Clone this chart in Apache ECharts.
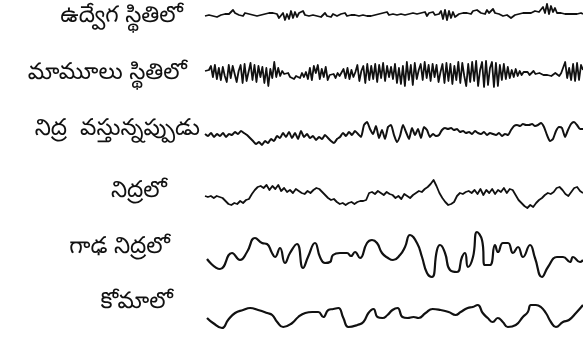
<!DOCTYPE html>
<html lang="te" style="height: 100%">
<head>
  <meta charset="utf-8">
</head>
<body style="height: 100%; margin: 0; background: #fff">
  <div id="container" style="width: 583px; height: 340px"></div>
  <script src="https://cdn.jsdelivr.net/npm/echarts@6/dist/echarts.min.js"></script>
  <script>
    // row labels (top to bottom)
    var labels = ['ఉద్వేగ స్థితిలో', 'మామూలు స్థితిలో', 'నిద్ర  వస్తున్నప్పుడు', 'నిద్రలో', 'గాఢ నిద్రలో', 'కోమాలో'];

    // excited - sampled every 2px
    var excited = [0, -1, 1, -1, 0, 1, -1, 0, 1, 0, 2, 1, 2, 4, 6, 3, 5, 1, 2, 0, 3, 1, 2,
      2, 1, 3, 0, 2, 1, 3, 2, 1, 3, 2, 3, 4, 2, -2, -1, 3, -4, 2, -3, 5, -2, 4, -1, 3,
      2, 5, 1, 3, 0, 2, 1, 1, 0, 2, -1, 1, 3, 0, 1, -1, 2, 1, 0, 1, 2, 1, 3, 0, 2, 1, 3, 1, 2,
      0, -1, 1, -1, 0, 1, 0, -1, 1, 0, 2, 1, 3, 2, 4, 1, 3, 2, 4, 1, 3, 2, 3, 1, 2,
      2, 4, 3, 1, 2, 1, 3, 1, 4, 0, 3, 2, 4, 1, 3, 2, 5, -3, 6, -4, 5, -2, 4, -1, 1, 2, 1, 3, 2,
      3, 4, 2, 5, 3, 6, 4, 3, 5, 2, 6, 3, 4, 7, 3, 4, 2, 1, 0, -1, 1, 0, -2, 0, 1,
      1, 2, 1, 3, 2, 3, 4, 3, 4, 5, 3, 4, 5, 9, 3, 12, 2, 10, 4, 8, 3,
      2, 3, 2, 2, 3, 2, 1, 2, 3, 2, 4, 3, 2];

    // normal - sampled every 2px
    var normal = [3, 2, 4, 8, -3, 9, -5, 6, -6, 7, -2, -8, 9, -4, 8,
      10, -8, 3, 9, -9, 10, -7, 2, 11, -6, 9, -8, 8, -3, 7, -9, 6, -12, 5,
      -4, 12, -3, 6, -2, 3, 0, -2, 1, -3, -1, -5, -2, 0, -4, 1, -3, 2,
      -5, 6, -6, 8, 1, 9, -5, 5, -3, 7, -6, -1, -3, 0, -4, 1, -2, -3, 5, -4, 6, -5, 4, -3, 2,
      9, -7, 3, 8, -9, 10, -6, 8, -5, 10, -8, 9, -4, 11, -7, 8, -3, 7, -5, 10, -9, 6,
      -10, 8, -12, 12, -6, 9, -11, 11, -5, 4, 10, -6, 12, -4, 9, -7, 10, -3, 9, -8, 2, 10, -9, 11, -7, 10,
      -10, 8, -6, 12, -9, 11, -2, -12, 10, -8, 12, -7, 13, -12, 4, 12, -13, 13, -11, 6, 12, -13,
      11, -12, 9, -6, 10, -5, 7, -4, 4, -3, 5, -2, 3,
      -1, 2, 0, 2, -1, 1, 3, 0, -2, 1, 2, -1, -3, -1, 0, -2, -1, 1, 0, -2,
      1, 3, 12, -4, 6, -6, 10, -7, 11, -6, 9, 4];

    // drowsy - sampled every 3px
    var drowsy = [-1, -3, 0, -4, -1, -3, 0, -4, -1, -2, 1, -1, 2, 0, -2, -5, -8, -11, -9, -12, -8,
      -10, -6, -8, -3, -5, 0, -4, 1, -5, 0, -6, 2, -4, -1, -5, -3, -7, -4, -6, -2, -5, -8, -10, -6,
      -4, 0, -3, 1, -2, 2, -1, -4, 8, 11, 4, -1, 7, -5, 3, -6, 6, 8, -2, -9,
      -3, 8, 1, -6, 5, -2, 4, -5, 6, 3, -4, -1, -3, -2, 3, 5, 4, 5,
      3, 4, 1, 2, 0, 1, -1, 2, 0, -1, 1, -2, 0, -1, -2, 0, -3, -1, -2, 3, 7,
      8, 7, 9, 8, 8, 9, 7, 8, 10, 6, -2, -8, -6, 2, 6, 5, -4, 3, 9, 11, 8, 4, 4];

    // asleep - sampled every 3px
    var asleep = [0, -1, 0, -2, 0, -1, -2, -5, -8, -9, -7, -8, -5, -7, -4, -3, 2, 6, 9, 10,
      8, 11, 6, 10, 7, 11, 5, 8, 4, 6, 3, 7, 5, 3, 2, 5, 3, 6, 8, 7, 4, 1,
      -2, -4, -3, -6, -8, -7, -9, -7, -6, -8, -6, -5, -5, -4, 3, 4, 2, 5, 3, 1, 4, 2,
      1, -2, 0, -3, 2, 0, -2, 1, 3, 5, 4, 7, 9, 12, 16, 10, 3, -2, -6, -9, -8, -6,
      0, 3, 2, 4, 5, 3, 6, 2, 7, 1, 6, 3, 7, 2, 6, 4, 8, 3, 7, 6,
      1, -4, -7, -10, -12, -9, -11, -7, -4, -2, 1, 3, 2, 4, 8, 9, 6, 2, 0, 4, 8, 9, 5, 3];

    // deep sleep - px offset along the trace, and value
    var deepX = [2, 15, 27, 35, 42, 50, 57, 62, 67, 70, 75, 80, 85, 92, 98, 103, 110, 115, 120, 125,
      128, 135, 142, 146, 150, 155, 162, 167, 172, 177, 183, 188, 195, 200, 205, 212, 217, 222, 227,
      232, 235, 240, 245, 252, 257, 260, 263, 268, 272, 277, 280, 285, 290, 293, 298, 303, 308, 313,
      318, 325, 330, 337, 343, 352, 358, 365, 368, 375, 378];
    var deepY = [-5, -15, 1, -6, 2, 16, 11, 10, 1, -3, 6, -9, 1, 10, -14, -3, 11, -3, -9, -8,
      -1, 1, 1, -2, 2, -4, 11, 14, 11, 1, -4, -6, -1, 7, 19, 11, -3, -19, -23,
      4, 9, 1, -16, -18, -3, 1, -13, -3, 22, 14, -11, -11, 9, 2, 11, 11, 1, 7,
      -3, 9, -4, -23, -13, -3, -3, -8, -3, -8, -6];

    // coma - px offset along the trace, and value
    var comaX = [2, 8, 17, 23, 30, 38, 45, 53, 62, 67, 72, 78, 87, 93, 100, 107, 113, 118, 123, 128,
      133, 138, 143, 152, 158, 163, 168, 172, 177, 182, 187, 192, 197, 202, 208, 213, 220, 227, 235,
      243, 250, 255, 262, 267, 272, 277, 282, 287, 292, 297, 302, 310, 317, 322, 325, 330, 335, 340,
      345, 350, 357, 363, 370, 377];
    var comaY = [-3, -8, -13, -5, 2, 5, 7, 5, 2, 0, -7, -12, -8, -2, 2, 3, 3, -2, 5, 6,
      7, -3, -12, -10, -7, 2, 6, -2, -3, 0, 5, 7, -2, -3, -2, -3, 2, 6, 5,
      3, 0, 3, 7, 8, 10, 2, -3, -7, -3, -7, -12, -10, -2, 3, 10, 10, 8, 2,
      -7, -12, -7, -5, 2, 10];

    // layout: vertical centre and height of each trace band
    var rowMid = [16, 74, 133, 196, 254, 315];
    var rowH = [30, 40, 40, 40, 60, 40];
    var labelRight = [183, 187, 200, 167, 170, 173];
    var labelMid = [19, 76, 132, 194, 250, 305];

    function stepped(arr, step) {
      return arr.map(function (v, i) { return [i * step, v]; });
    }
    function paired(xs, ys) {
      return xs.map(function (x, i) { return [x, ys[i]]; });
    }

    var traces = [
      stepped(excited, 2),
      stepped(normal, 2),
      stepped(drowsy, 3),
      stepped(asleep, 3),
      paired(deepX, deepY),
      paired(comaX, comaY)
    ];
    var widths = [1.8, 1.8, 2, 1.8, 2.2, 2.2];
    var smooth = [false, false, 0.2, false, 0.5, 0.5];

    var dom = document.getElementById('container');
    var myChart = echarts.init(dom, null, { renderer: 'canvas' });

    var grid = [], xAxis = [], yAxis = [], series = [], graphic = [];
    for (var i = 0; i < 6; i++) {
      grid.push({ left: 205, right: 0, top: rowMid[i] - rowH[i] / 2, height: rowH[i] });
      xAxis.push({ type: 'value', gridIndex: i, min: 0, max: 'dataMax', show: false });
      yAxis.push({ type: 'value', gridIndex: i, min: -rowH[i] / 2, max: rowH[i] / 2, show: false });
      series.push({
        type: 'line',
        xAxisIndex: i,
        yAxisIndex: i,
        data: traces[i],
        symbol: 'none',
        smooth: smooth[i],
        silent: true,
        lineStyle: { color: '#111', width: widths[i], join: 'round' }
      });
      graphic.push({
        type: 'text',
        x: labelRight[i],
        y: labelMid[i],
        style: {
          text: labels[i],
          fill: '#111',
          align: 'right',
          verticalAlign: 'middle',
          font: '23px "Noto Sans Telugu", "Noto Sans", sans-serif'
        }
      });
    }

    var option = {
      animation: false,
      backgroundColor: '#fff',
      grid: grid,
      xAxis: xAxis,
      yAxis: yAxis,
      series: series,
      graphic: graphic
    };

    myChart.setOption(option);
    window.addEventListener('resize', myChart.resize);
  </script>
</body>
</html>
